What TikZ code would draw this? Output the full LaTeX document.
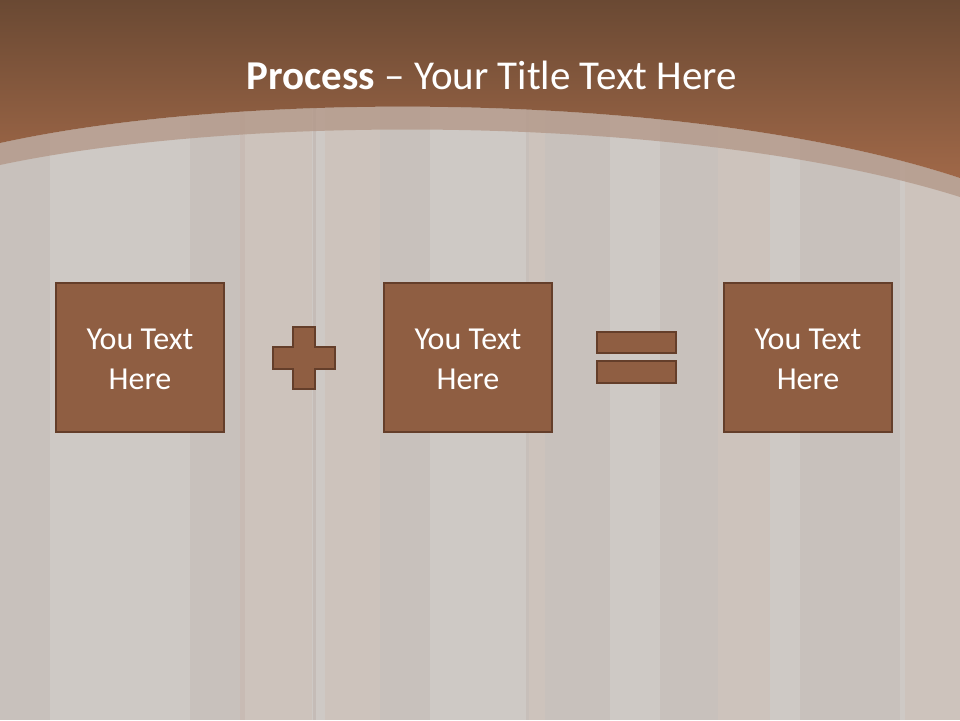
\documentclass[tikz,border=0pt]{standalone}
\usepackage{fontspec}
\setmainfont{Carlito}
\definecolor{bgGray}{RGB}{206,201,197}
\definecolor{topDark}{RGB}{106,73,51}
\definecolor{topLight}{RGB}{160,104,72}
\definecolor{bandCol}{RGB}{178,150,134}
\definecolor{boxFill}{RGB}{143,94,66}
\definecolor{boxLine}{RGB}{100,62,42}
\definecolor{woodDark}{RGB}{120,80,60}
\definecolor{woodOrange}{RGB}{200,120,80}
\begin{document}
\begin{tikzpicture}[x=1pt,y=-1pt,
  textbox/.style={draw=boxLine,line width=2.2pt,fill=boxFill,minimum width=168pt,minimum height=149pt,
    inner sep=0pt},
  boxtext/.style={text=white,align=center,inner sep=0pt,font=\fontsize{32}{40}\selectfont},
  symbox/.style={draw=boxLine,line width=2.2pt,fill=boxFill},
  streakd/.style={fill=woodDark,fill opacity=0.06,draw=none},
  streako/.style={fill=woodOrange,fill opacity=0.07,draw=none}]
\useasboundingbox (0,0) rectangle (960,720);
% background
\fill[bgGray] (0,0) rectangle (960,720);
% faint wood planks
\fill[streakd] (0,100) rectangle (50,720);
\fill[streakd] (190,100) rectangle (245,720);
\fill[streako] (240,100) rectangle (312,720);
\fill[woodDark,opacity=0.10] (313,100) rectangle (316,720);
\fill[streako] (325,100) rectangle (380,720);
\fill[streakd] (380,100) rectangle (430,720);
\fill[woodDark,opacity=0.08] (526,100) rectangle (529,720);
\fill[streako] (529,100) rectangle (545,720);
\fill[streakd] (545,100) rectangle (610,720);
\fill[streakd] (660,100) rectangle (718,720);
\fill[streako] (718,100) rectangle (770,720);
\fill[streakd] (800,100) rectangle (900,720);
\fill[streako] (905,100) rectangle (960,720);
% translucent band
\fill[bandCol,opacity=0.75] (0,143) .. controls (250,88) and (700,92) .. (960,178)
  -- (960,197) .. controls (700,115) and (250,112) .. (0,165) -- cycle;
% brown header
\shade[top color=topDark,bottom color=topLight]
  (0,0) -- (960,0) -- (960,178) .. controls (700,92) and (250,88) .. (0,143) -- cycle;
% title
\node[text=white,font=\fontsize{41}{48}\selectfont] (title) at (492,75)
  {\textbf{Process} – Your Title Text Here};
% boxes
\node[textbox] (b1) at (140,357.5) {};
\node[textbox] (b2) at (468,357.5) {};
\node[textbox] (b3) at (808,357.5) {};
\node[boxtext] (t1) at ([yshift=-2pt]b1.center) {You Text\\Here};
\node[boxtext] (t2) at ([yshift=-2pt]b2.center) {You Text\\Here};
\node[boxtext] (t3) at ([yshift=-2pt]b3.center) {You Text\\Here};
% plus
\draw[symbox] (293,327) -- (315,327) -- (315,347) -- (335,347) -- (335,369) -- (315,369)
  -- (315,389) -- (293,389) -- (293,369) -- (273,369) -- (273,347) -- (293,347) -- cycle;
% equals
\draw[symbox] (597,332) rectangle (676,353);
\draw[symbox] (597,361) rectangle (676,383);
\end{tikzpicture}
\end{document}
